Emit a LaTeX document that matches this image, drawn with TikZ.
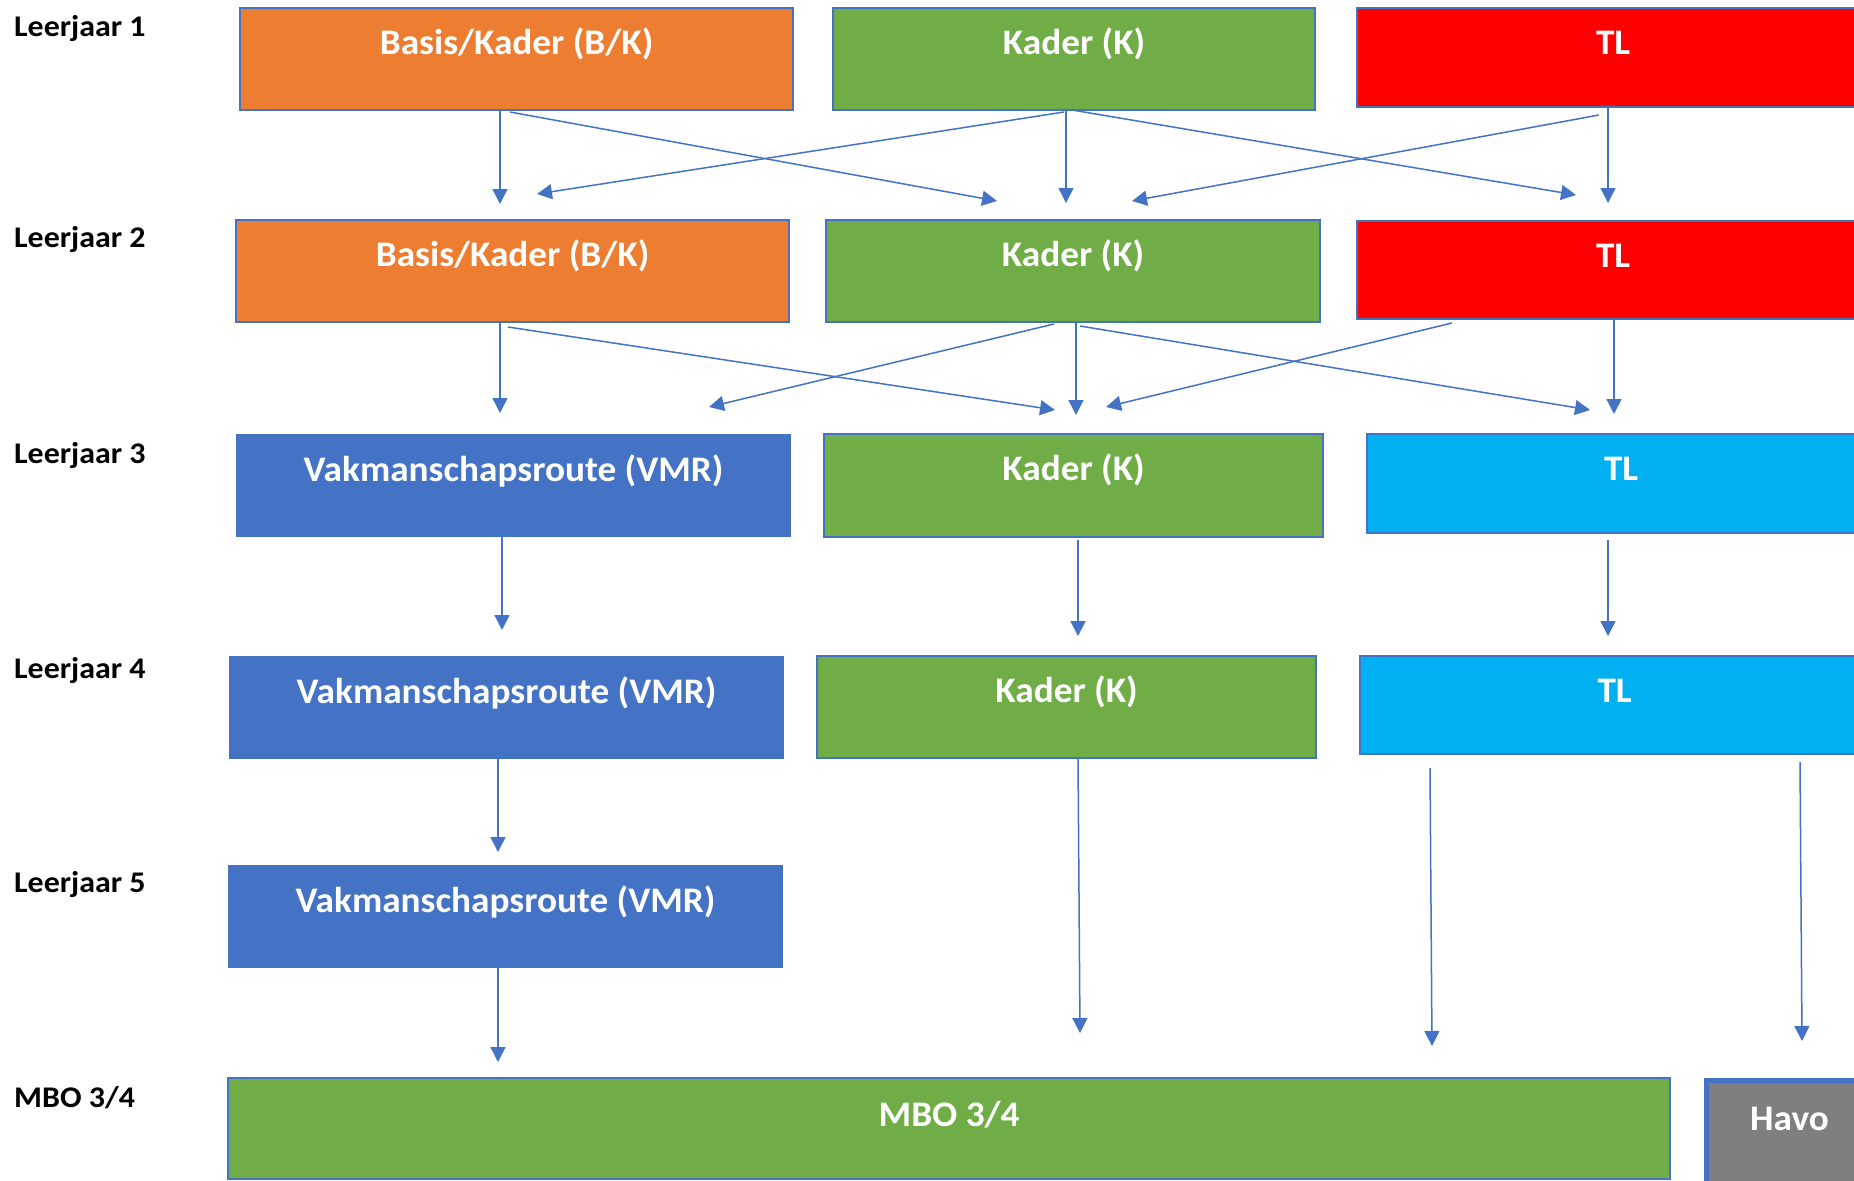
\documentclass[tikz,border=0pt]{standalone}
\usepackage{fontspec}
\setmainfont{Carlito}
\newfontfamily\boxfont[FakeStretch=1.035]{Carlito}
\newfontfamily\lblfont[FakeStretch=1.065]{Carlito}
\usetikzlibrary{arrows.meta}
\definecolor{cOrange}{HTML}{ED7D31}
\definecolor{cGreen}{HTML}{70AD47}
\definecolor{cRed}{HTML}{FF0000}
\definecolor{cCyan}{HTML}{00B0F0}
\definecolor{cBlue}{HTML}{4472C4}
\definecolor{cGray}{HTML}{7F7F7F}
\begin{document}
\begin{tikzpicture}[x=1pt,y=-1pt,
  box/.style={rectangle, draw=cBlue, line width=2.2pt, inner sep=0pt, anchor=north west,
    text=white, font=\boxfont\fontsize{36}{40}\selectfont\bfseries, align=center, text height=46pt},
  lbl/.style={anchor=base west, inner sep=0pt, font=\lblfont\fontsize{30}{34}\selectfont\bfseries},
  arr/.style={draw=cBlue, line width=1.5pt, -{Triangle[length=15pt,width=15pt]}}]
\useasboundingbox (0,0) rectangle (1854,1180);
\clip (0,0) rectangle (1854,1180);
\fill[white] (0,0) rectangle (1854,1180);
% labels
\node[lbl] (l1) at (14,37) {Leerjaar 1};
\node[lbl] (l2) at (14,247) {Leerjaar 2};
\node[lbl] (l3) at (14,463) {Leerjaar 3};
\node[lbl] (l4) at (14,678) {Leerjaar 4};
\node[lbl] (l5) at (14,892) {Leerjaar 5};
\node[lbl] (l6) at (14,1107) {MBO 3/4};
% row 1
\node[box, fill=cOrange, minimum width=553pt, text depth=56pt] (o1) at (239,7) {Basis/Kader (B/K)};
\node[box, fill=cGreen, minimum width=482pt, text depth=56pt] (g1) at (832,7) {Kader (K)};
\node[box, fill=cRed, minimum width=512pt, text depth=53pt] (r1) at (1356,7) {TL};
% row 2
\node[box, fill=cOrange, minimum width=553pt, text depth=56pt] (o2) at (235,219) {Basis/Kader (B/K)};
\node[box, fill=cGreen, minimum width=494pt, text depth=56pt] (g2) at (825,219) {Kader (K)};
\node[box, fill=cRed, minimum width=512pt, text depth=52pt] (r2) at (1356,220) {TL};
% row 3
\node[box, fill=cBlue, minimum width=553pt, text depth=55pt] (v3) at (236,434) {Vakmanschapsroute (VMR)};
\node[box, fill=cGreen, minimum width=499pt, text depth=57pt] (g3) at (823,433) {Kader (K)};
\node[box, fill=cCyan, minimum width=508pt, text depth=53pt] (c3) at (1366,433) {TL};
% row 4
\node[box, fill=cBlue, minimum width=553pt, text depth=55pt] (v4) at (229,656) {Vakmanschapsroute (VMR)};
\node[box, fill=cGreen, minimum width=499pt, text depth=56pt] (g4) at (816,655) {Kader (K)};
\node[box, fill=cCyan, minimum width=509pt, text depth=52pt] (c4) at (1359,655) {TL};
% row 5
\node[box, fill=cBlue, minimum width=553pt, text depth=55pt] (v5) at (228,865) {Vakmanschapsroute (VMR)};
% row 6
\node[box, fill=cGreen, minimum width=1442pt, text height=48pt, text depth=53pt] (mbo) at (227,1077) {MBO 3/4};
\node[box, fill=cGray, line width=5pt, minimum width=166pt, text height=50pt, text depth=60pt] (havo) at (1704,1078) {Havo};
% arrow end points
\coordinate (a1s) at (500,109); \coordinate (a1e) at (500,204);
\coordinate (a2s) at (510,112); \coordinate (a2e) at (997,201);
\coordinate (a3s) at (1064,112); \coordinate (a3e) at (537,194);
\coordinate (a4s) at (1066,109); \coordinate (a4e) at (1066,203);
\coordinate (a5s) at (1072,110); \coordinate (a5e) at (1576,195);
\coordinate (a6s) at (1599,115); \coordinate (a6e) at (1132,201);
\coordinate (a7s) at (1608,108); \coordinate (a7e) at (1608,203);
\coordinate (b1s) at (500,321); \coordinate (b1e) at (500,413);
\coordinate (b2s) at (508,327); \coordinate (b2e) at (1055,410);
\coordinate (b3s) at (1054,324); \coordinate (b3e) at (709,407);
\coordinate (b4s) at (1076,321); \coordinate (b4e) at (1076,415);
\coordinate (b5s) at (1080,326); \coordinate (b5e) at (1590,410);
\coordinate (b6s) at (1452,323); \coordinate (b6e) at (1106,407);
\coordinate (b7s) at (1614,318); \coordinate (b7e) at (1614,414);
\coordinate (c1s) at (502,535); \coordinate (c1e) at (502,630);
\coordinate (c2s) at (1078,540); \coordinate (c2e) at (1078,636);
\coordinate (c3s) at (1608,540); \coordinate (c3e) at (1608,636);
\coordinate (d1s) at (498,757); \coordinate (d1e) at (498,852);
\coordinate (e1s) at (498,967); \coordinate (e1e) at (498,1062);
\coordinate (f1s) at (1078,758); \coordinate (f1e) at (1080,1033);
\coordinate (f2s) at (1430,768); \coordinate (f2e) at (1432,1046);
\coordinate (f3s) at (1800,762); \coordinate (f3e) at (1802,1041);
% arrows
\foreach \a in {a1,a2,a3,a4,a5,a6,a7,b1,b2,b3,b4,b5,b6,b7,c1,c2,c3,d1,e1,f1,f2,f3}
  \draw[arr] (\a s) -- (\a e);
\end{tikzpicture}
\end{document}
